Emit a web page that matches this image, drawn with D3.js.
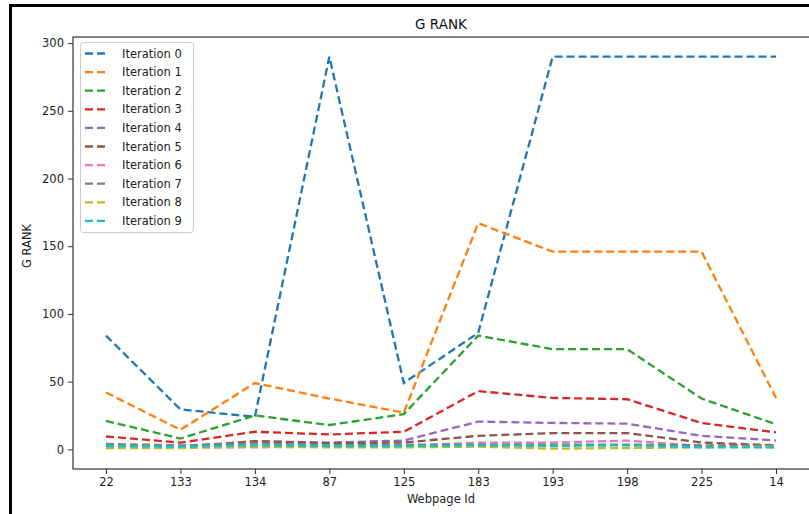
<!DOCTYPE html>
<html>
<head>
<meta charset="utf-8">
<script src="https://cdn.jsdelivr.net/npm/d3@7"></script>
<style>
  body { margin: 0; background: #fff; }
  svg { display: block; font-family: "DejaVu Sans", sans-serif; }
</style>
</head>
<body>
<svg id="chart" width="809" height="514"></svg>
<script>
// webpage ids on the x axis
var pages = ["22", "133", "134", "87", "125", "183", "193", "198", "225", "14"];
var yTicks = [0, 50, 100, 150, 200, 250, 300];

var iter0 = [84, 29.5, 24, 290, 49, 86, 290, 290, 290, 290];
var iter1 = [42, 14.5, 49, 37.5, 27, 167, 146, 146, 146, 38];
var iter2 = [21, 8, 25, 18, 26, 84, 74, 74, 37.5, 18.5];
var iter3 = [9.5, 5, 13, 11, 13, 43, 38, 37, 19.5, 12.5];
var iter4 = [3, 2, 6, 5, 6.5, 20.5, 19.5, 19, 10, 6.5];
var iter5 = [2, 1.5, 6, 4.5, 5, 10, 12, 12, 5, 3];
var iter6 = [1, 1.5, 1.5, 2, 2.5, 5, 5, 6.5, 2.5, 1.5];
var iter7 = [4, 3, 4.5, 3, 3.5, 3.5, 3.5, 3.5, 3, 3];
var iter8 = [1, 1, 2, 1.5, 1.5, 2, 0.5, 1, 1.5, 2];
var iter9 = [2.5, 2, 3, 2.5, 2.5, 3, 2.5, 3, 1.5, 1.5];

var series = [iter0, iter1, iter2, iter3, iter4, iter5, iter6, iter7, iter8, iter9];
var colors = ["#1f77b4", "#ff7f0e", "#2ca02c", "#d62728", "#9467bd",
              "#8c564b", "#e377c2", "#7f7f7f", "#bcbd22", "#17becf"];

var svg = d3.select("#chart");

// outer black frame (cropped on the right and bottom)
svg.append("path")
    .attr("d", "M10.5,514 L10.5,5.5 L809,5.5")
    .attr("fill", "none")
    .attr("stroke", "#000")
    .attr("stroke-width", 3);

// right spine falls just outside the picture
var axL = 73, axT = 37, axR = 813, axB = 469;

var xScale = d3.scalePoint().domain(pages).range([106, 776]);
var yScale = d3.scaleLinear().domain([-14.5, 304.5]).range([axB, axT]);

// axes box
svg.append("rect")
    .attr("x", axL).attr("y", axT)
    .attr("width", axR - axL).attr("height", axB - axT)
    .attr("fill", "none")
    .attr("stroke", "#333")
    .attr("stroke-width", 1.2);

var line = d3.line()
    .x(function(d, i) { return xScale(pages[i]); })
    .y(function(d) { return yScale(d); });

var g = svg.append("g");
series.forEach(function(s, k) {
    g.append("path")
        .datum(s)
        .attr("d", line)
        .attr("fill", "none")
        .attr("stroke", colors[k])
        .attr("stroke-width", 2.3)
        .attr("stroke-dasharray", "8,4");
});

// x axis
var xAxis = svg.append("g")
    .attr("transform", "translate(0," + axB + ")")
    .call(d3.axisBottom(xScale).tickSize(5).tickPadding(4));
xAxis.select(".domain").remove();
xAxis.selectAll("line").attr("stroke", "#333");
xAxis.selectAll("text").attr("font-size", "11.5px").attr("fill", "#222")
    .attr("font-family", "DejaVu Sans");

// y axis
var yAxis = svg.append("g")
    .attr("transform", "translate(" + axL + ",0)")
    .call(d3.axisLeft(yScale).tickValues(yTicks).tickSize(5).tickPadding(4));
yAxis.select(".domain").remove();
yAxis.selectAll("line").attr("stroke", "#333");
yAxis.selectAll("text").attr("font-size", "11.5px").attr("fill", "#222")
    .attr("font-family", "DejaVu Sans");

// titles
svg.append("text")
    .attr("x", 441).attr("y", 29)
    .attr("text-anchor", "middle")
    .attr("font-size", "13.5px").attr("fill", "#111")
    .text("G RANK");

svg.append("text")
    .attr("x", 441).attr("y", 503)
    .attr("text-anchor", "middle")
    .attr("font-size", "11.5px").attr("fill", "#222")
    .text("Webpage Id");

svg.append("text")
    .attr("transform", "translate(31,246) rotate(-90)")
    .attr("text-anchor", "middle")
    .attr("font-size", "11.5px").attr("fill", "#222")
    .text("G RANK");

// legend
var lg = svg.append("g");
lg.append("rect")
    .attr("x", 80.5).attr("y", 42.5)
    .attr("width", 113).attr("height", 190)
    .attr("rx", 3)
    .attr("fill", "#fff")
    .attr("fill-opacity", 0.8)
    .attr("stroke", "#ccc");

series.forEach(function(s, k) {
    var yy = 53.5 + k * 18.6;
    lg.append("line")
        .attr("x1", 85).attr("x2", 109)
        .attr("y1", yy).attr("y2", yy)
        .attr("stroke", colors[k])
        .attr("stroke-width", 2.3)
        .attr("stroke-dasharray", "8,4");
    lg.append("text")
        .attr("x", 122).attr("y", yy + 4)
        .attr("font-size", "11.5px").attr("fill", "#222")
        .text("Iteration " + k);
});
</script>
</body>
</html>
